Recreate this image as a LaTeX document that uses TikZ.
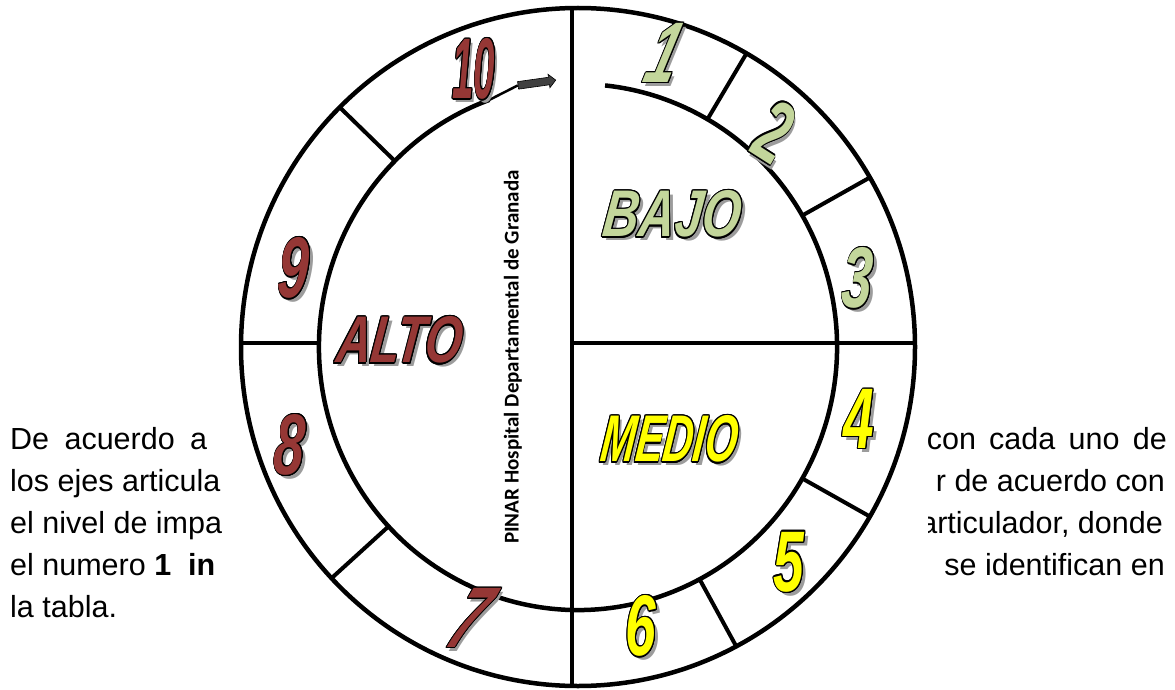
\documentclass[tikz,border=0pt]{standalone}
\usepackage{fontspec}
\setmainfont{Liberation Sans}
\newfontfamily\calfont{Carlito}
\usepackage{contour}
\usetikzlibrary{shapes,arrows,positioning,calc}

\definecolor{bajogreen}{HTML}{C3D69B}
\definecolor{medioyellow}{HTML}{FFFF00}
\definecolor{altored}{HTML}{953735}
\definecolor{shadegray}{HTML}{9C9C9C}
\definecolor{arrowgray}{HTML}{404040}

% filled letters with a black outline and a grey shadow
\contourlength{1.4pt}
\newcommand{\wordart}[2]{\makebox[0pt][l]{\hspace*{6pt}\raisebox{-4pt}{\textcolor{shadegray}{#2}}}{\color{#1}\contour{black}{#2}}}

\tikzset{
  ringnum/.style={inner sep=0pt, font=\fontsize{86}{86}\selectfont\bfseries\itshape, xscale=0.64},
  levelword/.style={inner sep=0pt, font=\fontsize{66}{66}\selectfont\bfseries\itshape, xslant=0.12},
  ringline/.style={line width=4.5pt},
  divline/.style={line width=4pt},
  bodytxt/.style={inner sep=0pt, font=\fontsize{30.5}{42}\selectfont},
}

\begin{document}
\begin{tikzpicture}[x=1pt, y=1pt]
\useasboundingbox (0,0) rectangle (1175,-690);

% paragraph seen beside the wheel
\begin{scope}
\clip (0,0) rectangle (222,-690);
\node[bodytxt, anchor=base west] (l1) at (10,-449) {\makebox[197pt][s]{De acuerdo a}};
\node[bodytxt, anchor=base west] (l2) at (10,-491) {los ejes articula};
\node[bodytxt, anchor=base west] (l3) at (10,-533) {el nivel de impa};
\node[bodytxt, anchor=base west] (l4) at (10,-575) {el numero \textbf{1\ \ in}};
\node[bodytxt, anchor=base west] (l5) at (10,-617) {la tabla.};
\end{scope}
\begin{scope}
\clip (928,0) rectangle (1175,-690);
\node[bodytxt, anchor=base east] (r1) at (1167,-449) {\makebox[240pt][s]{con cada uno de}};
\node[bodytxt, anchor=base east] (r2) at (1165,-491) {r de acuerdo con};
\node[bodytxt, anchor=base east] (r3) at (1163,-533) {articulador, donde};
\node[bodytxt, anchor=base east] (r4) at (1165,-575) {se identifican en};
\end{scope}

% wheel
\coordinate (C) at (578,-347);
\draw[ringline] (C) ellipse[x radius=337, y radius=339];
\draw[ringline] ($(C)+(110:259 and 263)$) coordinate (ia)
  arc[start angle=110, end angle=444, x radius=259, y radius=263];
\foreach \a in {60,30,-30,-62,135,223}
  \draw[divline] ($(C)+(\a:259 and 263)$) -- ($(C)+(\a:337 and 339)$);
\draw[divline] (572,-8) -- (572,-688);
\draw[divline] (572,-343) -- (915,-343);
\draw[divline] (242,-343) -- (320,-343);

\node[single arrow, fill=arrowgray, draw=black, line width=0.6pt, minimum height=38pt,
  minimum width=13pt, inner sep=3.5pt, single arrow head extend=3pt, rotate=8] (arr) at (535,-83) {};
\draw[line width=2.5pt] (ia) -- (arr.tail);

\node[rotate=90, inner sep=0pt, font=\calfont\bfseries\fontsize{21}{21}\selectfont] (hosp) at (513,-357) {PINAR Hospital Departamental de Granada};

% levels
\node[levelword, xscale=0.75] (bajo) at (673,-216) {\wordart{bajogreen}{BAJO}};
\node[levelword, xscale=0.63] (medio) at (670,-441) {\wordart{medioyellow}{MEDIO}};
\node[levelword, xscale=0.72] (alto) at (400,-342) {\wordart{altored}{ALTO}};

% numbers round the ring
\node[ringnum, xslant=0.45] (n1) at (665,-55) {\wordart{bajogreen}{1}};
\node[ringnum, xslant=0.3, rotate=-20] (n2) at (773,-133) {\wordart{bajogreen}{2}};
\node[ringnum, xslant=0.1] (n3) at (858,-280) {\wordart{bajogreen}{3}};
\node[ringnum] (n4) at (859,-421) {\wordart{medioyellow}{4}};
\node[ringnum] (n5) at (789,-564) {\wordart{medioyellow}{5}};
\node[ringnum] (n6) at (641,-628) {\wordart{medioyellow}{6}};
\node[ringnum, xslant=0.7] (n7) at (470,-620) {\wordart{altored}{7}};
\node[ringnum, xslant=0.1] (n8) at (290,-447) {\wordart{altored}{8}};
\node[ringnum, xslant=0.1] (n9) at (294,-270) {\wordart{altored}{9}};
\node[ringnum, xscale=0.7] (n10) at (474,-71) {\wordart{altored}{10}};
\end{tikzpicture}
\end{document}
